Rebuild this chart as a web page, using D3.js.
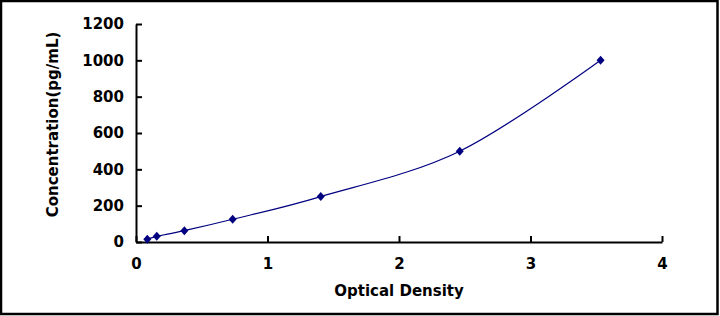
<!DOCTYPE html>
<html>
<head>
<meta charset="utf-8">
<script src="https://cdn.jsdelivr.net/npm/d3@7"></script>
<style>
    body { margin: 0; background: #fff; }
    svg { display: block; font-family: "DejaVu Sans", sans-serif; }
</style>
</head>
<body>
<div id="chart"></div>
<script>
// standard curve points
var od = [0.086, 0.158, 0.368, 0.735, 1.405, 2.462, 3.533];
var conc = [15.6, 31.2, 62.5, 125, 250, 500, 1000];
var xTicks = [0, 1, 2, 3, 4];
var yTicks = [0, 200, 400, 600, 800, 1000, 1200];

var width = 720, height = 316;
var margin = { top: 24, right: 58, bottom: 74, left: 136 };
var w = width - margin.left - margin.right;
var h = height - margin.top - margin.bottom;
var FONT = "'DejaVu Sans', sans-serif";

var svg = d3.select("#chart").append("svg")
    .attr("width", width)
    .attr("height", height);

// outer frame
svg.append("rect")
    .attr("x", 1).attr("y", 1)
    .attr("width", 716.5).attr("height", 313)
    .attr("fill", "#fff")
    .attr("stroke", "#000")
    .attr("stroke-width", 2.5);

var g = svg.append("g")
    .attr("transform", "translate(" + margin.left + "," + margin.top + ")");

var x = d3.scaleLinear().domain([0, 4]).range([0, w]);
var y = d3.scaleLinear().domain([0, 1200]).range([h, 0]);

var xAxis = g.append("g")
    .attr("transform", "translate(0," + h + ")")
    .call(d3.axisBottom(x).tickValues(xTicks).tickSize(-6).tickSizeOuter(0).tickPadding(16).tickFormat(d3.format("d")));

var yAxis = g.append("g")
    .call(d3.axisLeft(y).tickValues(yTicks).tickSize(-6).tickSizeOuter(0).tickPadding(12).tickFormat(d3.format("d")));

[xAxis, yAxis].forEach(function(a) {
    a.select(".domain").attr("stroke", "#000").attr("stroke-width", 2);
    a.selectAll(".tick line").attr("stroke", "#000").attr("stroke-width", 2);
    a.selectAll(".tick text")
        .attr("fill", "#000")
        .attr("font-size", 15)
        .attr("font-weight", "bold")
        .attr("font-family", FONT);
});

var pts = od.map(function(d, i) { return [d, conc[i]]; });

var line = d3.line()
    .x(function(d) { return x(d[0]); })
    .y(function(d) { return y(d[1]); })
    .curve(d3.curveCatmullRom.alpha(0));

g.append("path")
    .datum(pts)
    .attr("d", line)
    .attr("fill", "none")
    .attr("stroke", "#000080")
    .attr("stroke-width", 1.2);

g.selectAll(".pt")
    .data(pts)
    .enter().append("path")
    .attr("class", "pt")
    .attr("transform", function(d) { return "translate(" + x(d[0]) + "," + y(d[1]) + ")"; })
    .attr("d", "M0,-4.5L4,0L0,4.5L-4,0Z")
    .attr("fill", "#000080");

svg.append("text")
    .attr("x", margin.left + w / 2)
    .attr("y", 296)
    .attr("text-anchor", "middle")
    .attr("font-size", 15)
    .attr("font-weight", "bold")
    .text("Optical Density");

svg.append("text")
    .attr("transform", "translate(58,124.5) rotate(-90)")
    .attr("text-anchor", "middle")
    .attr("font-size", 15)
    .attr("font-weight", "bold")
    .text("Concentration(pg/mL)");
</script>
</body>
</html>
